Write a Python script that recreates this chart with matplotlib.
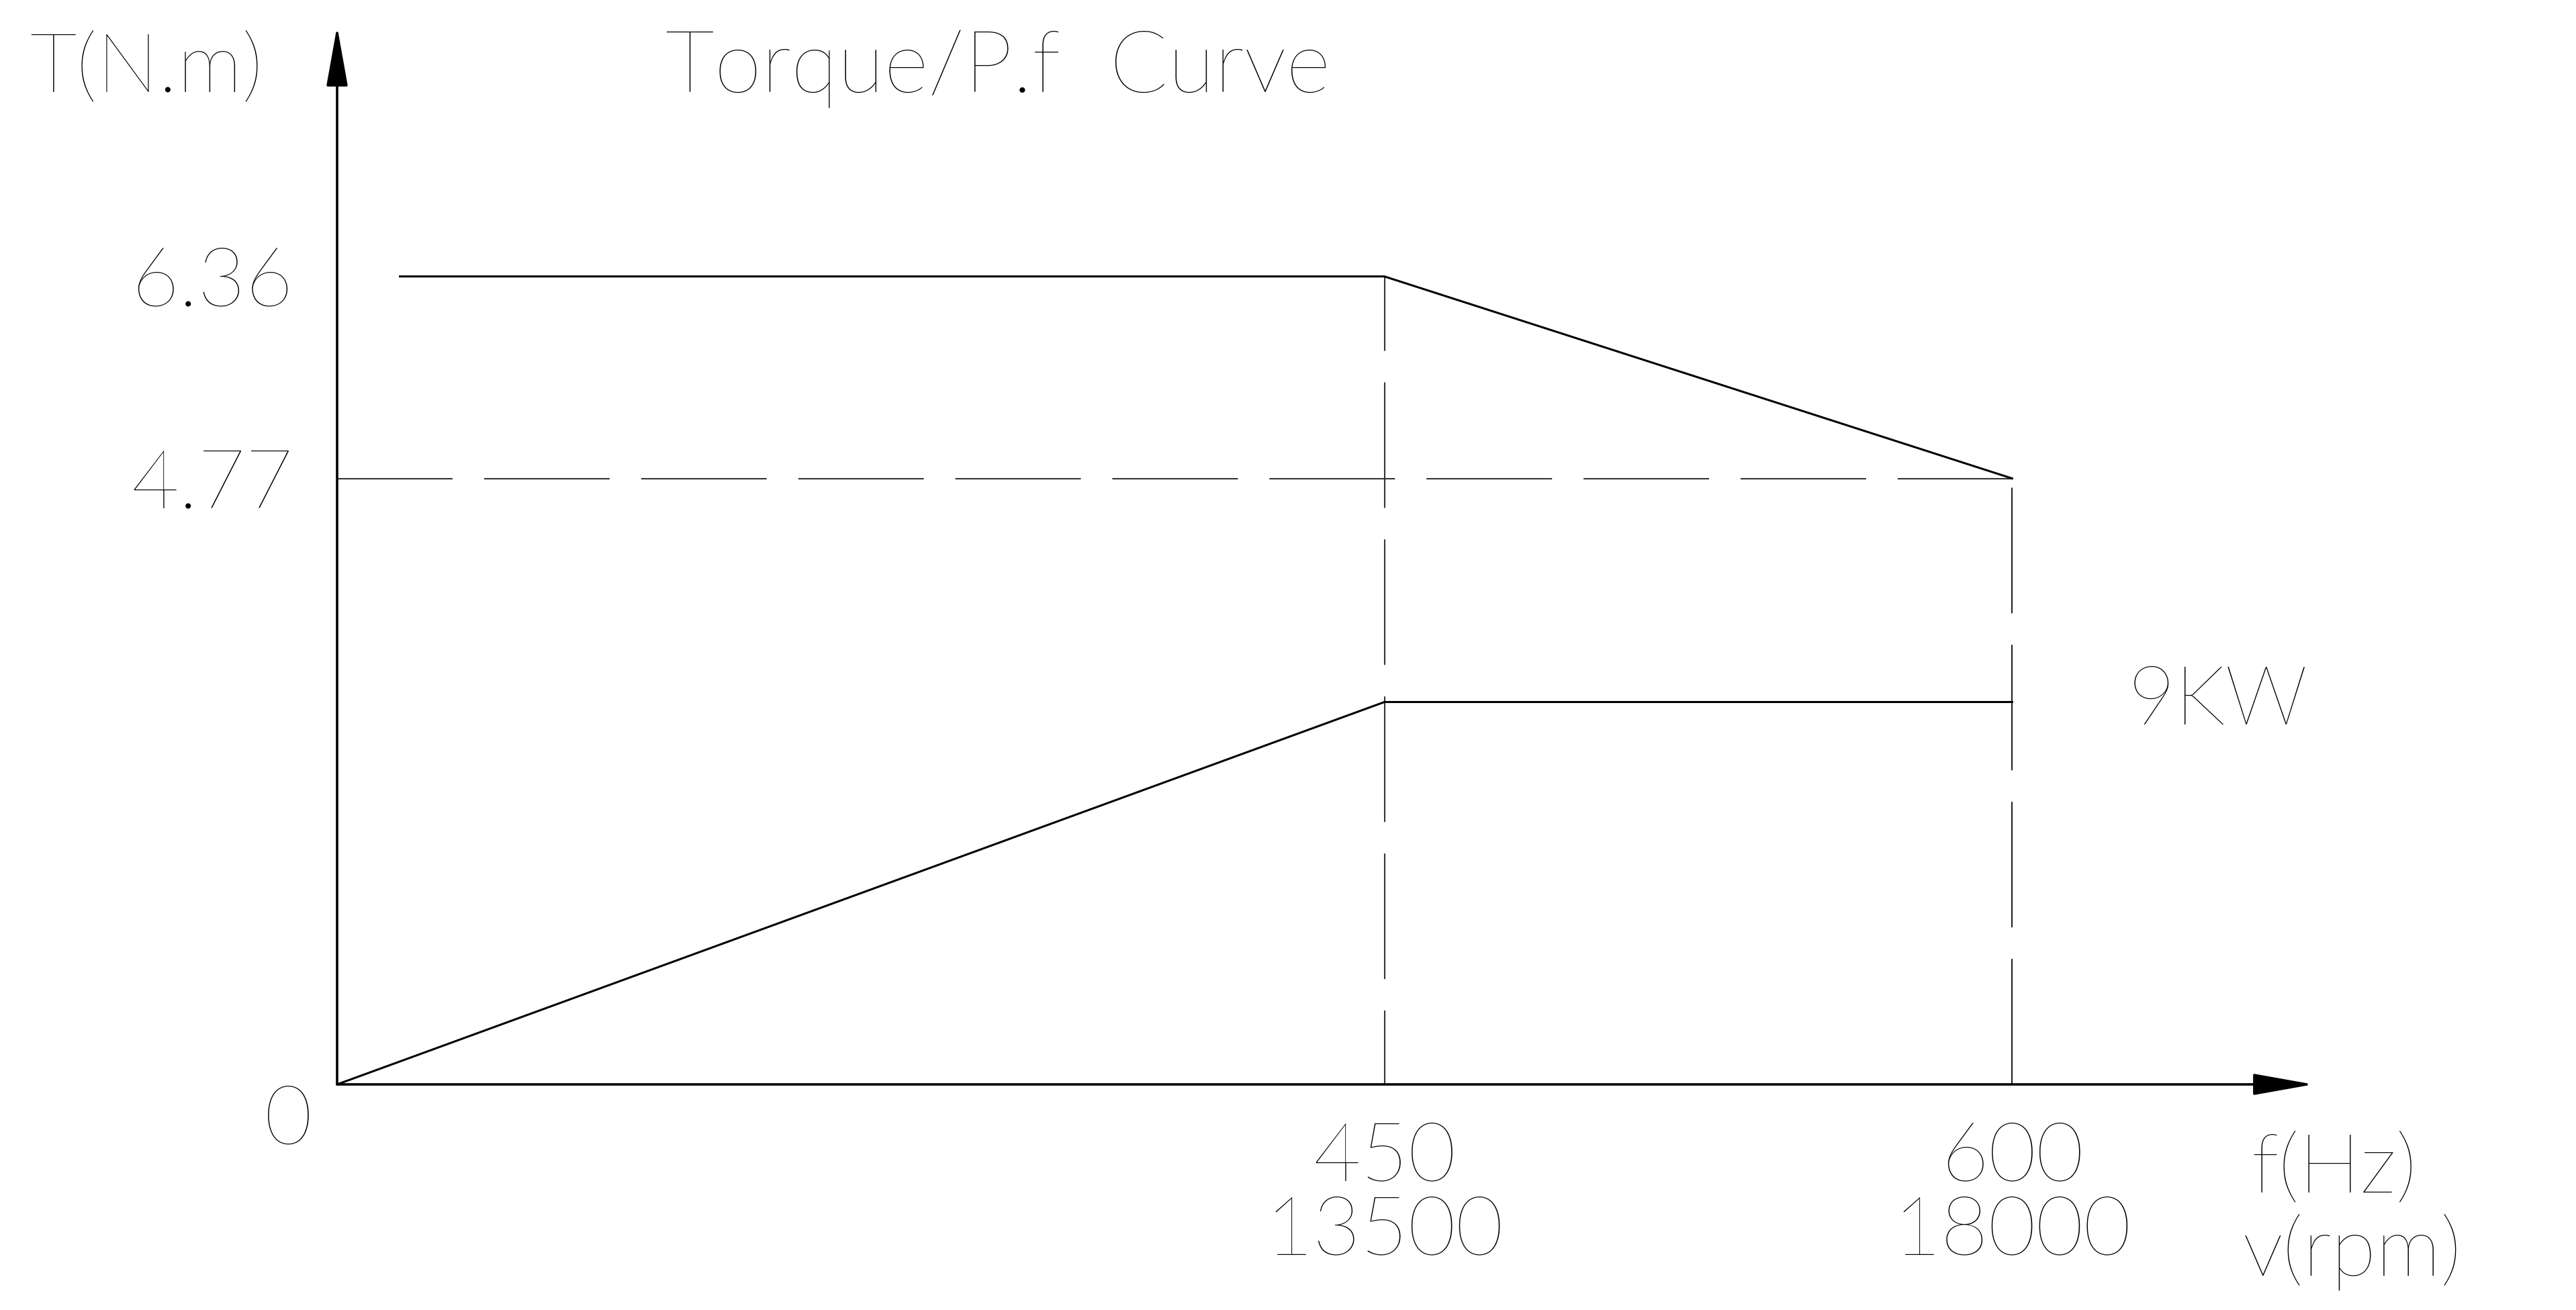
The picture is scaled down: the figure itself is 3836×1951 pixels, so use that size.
"""Torque / power vs. frequency curve of a spindle motor (schematic drawing)."""

import matplotlib

matplotlib.use("Agg")
import matplotlib.pyplot as plt
import numpy as np
from matplotlib.scale import FuncScale

# ---------------------------------------------------------------- data
freq_torque = [27, 450, 600]  # Hz
torque = [6.36, 6.36, 4.77]  # N.m
freq_power = [0, 450, 600]  # Hz
power = [0, 9, 9]  # kW
freq_ticks = [450, 600]  # Hz
rpm_ticks = [13500, 18000]  # rpm
torque_ticks = [4.77, 6.36]  # N.m
rated_power_label = "9KW"

# ---------------------------------------------------------------- layout
W, H, DPI = 3837, 1951, 100
# the frequency axis of the drawing is not to scale:
# 0-450 Hz spans 1560 px, 450-600 Hz spans 935 px
X_KNOTS = [0, 450, 600, 800]
X_PIX = [0, 1560, 2495, 2495 + 200 * 935 / 150]
X_MAX = 672  # Hz at the arrow tip
Y_MAX = 8.33  # N.m at the arrow tip
POWER_HEIGHT = 3.01  # rated power drawn at this torque-axis height

ON, OFF = 134.6, 33.8  # dash pattern in points
TEXT_SIZE = 88

plt.rcParams["font.family"] = ["Lato", "DejaVu Sans"]
plt.rcParams["font.weight"] = 200
plt.rcParams["text.color"] = "black"
plt.rcParams["xtick.color"] = "black"
plt.rcParams["ytick.color"] = "black"
plt.rcParams["lines.scale_dashes"] = False


def _fwd(f):
    return np.interp(f, X_KNOTS, X_PIX)


def _inv(p):
    return np.interp(p, X_PIX, X_KNOTS)


fig = plt.figure(figsize=(W / DPI, H / DPI), dpi=DPI)
left, right, bottom, top = 502, 3445, 1615, 39
ax = fig.add_axes([left / W, 1 - bottom / H, (right - left) / W, (bottom - top) / H])
ax.set_xscale(FuncScale(ax.xaxis, (_fwd, _inv)))
ax.set_xlim(0, X_MAX)
ax.set_ylim(0, Y_MAX)
for s in ax.spines.values():
    s.set_visible(False)

# axes as arrows
arrow = dict(
    arrowstyle="-|>,head_length=56,head_width=10",
    mutation_scale=1,
    lw=2.6,
    color="black",
    shrinkA=0,
    shrinkB=0,
)
ax.annotate("", xy=(0, 1), xytext=(0, 0), xycoords="axes fraction", arrowprops=arrow)
ax.annotate("", xy=(1, 0), xytext=(0, 0), xycoords="axes fraction", arrowprops=arrow)

# power curve on its own (hidden) y scale
ax2 = ax.twinx()
ax2.set_ylim(0, Y_MAX * power[-1] / POWER_HEIGHT)
ax2.set_axis_off()

# ---- reference lines ----------------------------------------------------
ax.plot(
    [0, freq_torque[-1]], [torque[-1]] * 2,
    color="#333333", lw=1.5, ls=(10.8, (ON, OFF)),
)
ax.plot(
    [freq_torque[1]] * 2, [0, torque[1]],
    color="#333333", lw=1.5, ls=(55.4, (ON, OFF)),
)
ax.plot(
    [freq_torque[-1]] * 2, [0, torque[-1]],
    color="#222222", lw=1.5, ls=(0, (ON, OFF)),
)

# ---- curves -------------------------------------------------------------
ax.plot(freq_torque, torque, color="black", lw=2.2, solid_joinstyle="miter")
ax2.plot(freq_power, power, color="black", lw=2.2, solid_joinstyle="miter")

# ---- ticks ----------------------------------------------------------------
ax.set_yticks(torque_ticks, labels=[f"{t:.2f}" for t in torque_ticks])
ax.set_xticks(freq_ticks, labels=[f"{f}\n{r}" for f, r in zip(freq_ticks, rpm_ticks)])
ax.tick_params(axis="y", length=0, pad=47, labelsize=TEXT_SIZE)
ax.tick_params(axis="x", length=0, pad=40, labelsize=TEXT_SIZE)
for lab in ax.get_xticklabels():
    lab.set_linespacing(1.0)
ax.annotate(
    "0", xy=(0, 0), xytext=(-52, -40), textcoords="offset points",
    ha="center", va="center", fontsize=TEXT_SIZE,
)
ax2.annotate(
    rated_power_label, xy=(freq_power[-1], power[-1]), xytext=(124, 0),
    textcoords="offset points", ha="left", va="center", fontsize=TEXT_SIZE,
)

# ---- axis titles ------------------------------------------------------------
fig.text(44 / W, 1 - 103 / H, "T(N.m)", ha="left", va="center", fontsize=TEXT_SIZE)
fig.text(991 / W, 1 - 103 / H, "Torque/P.f  Curve", ha="left", va="center", fontsize=92)
fig.text(3352 / W, 1 - 1742 / H, "f(Hz)", ha="left", va="center", fontsize=TEXT_SIZE)
fig.text(3340 / W, 1 - 1865 / H, "v(rpm)", ha="left", va="center", fontsize=TEXT_SIZE)

fig.savefig("out.png", dpi=DPI, facecolor="white")
